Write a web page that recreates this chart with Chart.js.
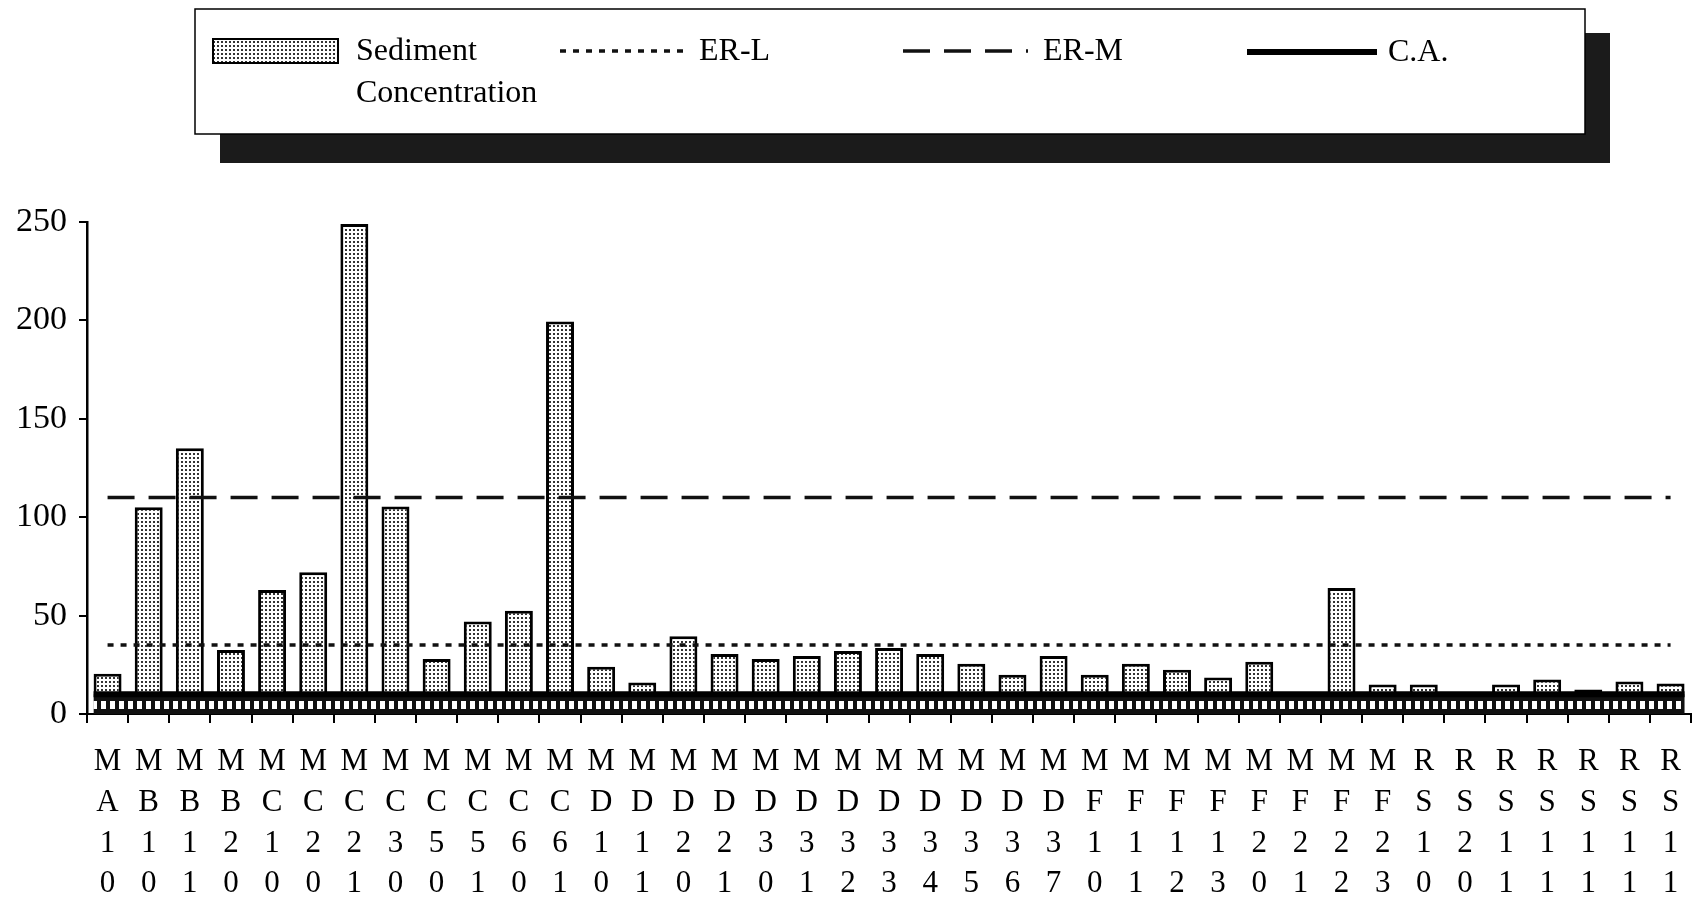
<!DOCTYPE html>
<html>
<head>
<meta charset="utf-8">
<title>Sediment concentration by station</title>
<script src="https://cdn.jsdelivr.net/npm/chart.js@4.4.1/dist/chart.umd.min.js"></script>
<style>
  html, body { margin: 0; padding: 0; background: #fff; }
  #wrap { width: 1700px; height: 898px; }
</style>
</head>
<body>
<div id="wrap"><canvas id="sedChart" width="1700" height="898"></canvas></div>
<script>
// Stations along the x axis (label is printed one character per line)
const stations = [
  'MA10', 'MB10', 'MB11', 'MB20', 'MC10', 'MC20', 'MC21', 'MC30', 'MC50', 'MC51',
  'MC60', 'MC61', 'MD10', 'MD11', 'MD20', 'MD21', 'MD30', 'MD31', 'MD32', 'MD33',
  'MD34', 'MD35', 'MD36', 'MD37', 'MF10', 'MF11', 'MF12', 'MF13', 'MF20', 'MF21',
  'MF22', 'MF23', 'RS10', 'RS20', 'RS11', 'RS11', 'RS11', 'RS11', 'RS11'
];

// Measured sediment concentration per station
const sediment = [
  20.5, 105, 135, 32.5, 63, 72, 249, 105.5, 28, 47,
  52.5, 199.5, 24, 16, 39.5, 30.5, 28, 29.5, 32, 33.5,
  30.5, 25.5, 20, 29.5, 20, 25.5, 22.5, 18.5, 26.5, 10,
  64, 15, 15, 10, 15, 17.5, 12.5, 16.5, 15.5
];

// Reference levels
const erL = 35;
const erM = 110;
const caLevel = 10;

const yMin = 0;
const yMax = 250;
const yStep = 50;

const serif = "'Liberation Serif', 'DejaVu Serif', serif";
const barPct = 0.68;

const canvas = document.getElementById('sedChart');
const ctx = canvas.getContext('2d');

// small repeating tiles for the stippled bars and the dark C.A. band
function makePattern(w, h, paint) {
  const tile = document.createElement('canvas');
  tile.width = w;
  tile.height = h;
  paint(tile.getContext('2d'));
  return ctx.createPattern(tile, 'repeat');
}

const dotFill = makePattern(4, 4, t => {
  t.fillStyle = '#fff';
  t.fillRect(0, 0, 4, 4);
  t.fillStyle = '#333';
  t.fillRect(1, 1, 2, 2);
});

const bandFill = makePattern(9, 20, t => {
  t.fillStyle = '#111';
  t.fillRect(0, 0, 9, 20);
  t.fillStyle = '#fff';
  t.fillRect(2, 1, 5, 8);
});

function flatLine(value) {
  return stations.map(() => value);
}

// Boxed legend with a drop shadow, drawn from the dataset styles
const legendBox = {
  id: 'legendBox',
  afterDraw(chart) {
    const c = chart.ctx;
    const box = { x: 195, y: 9, w: 1390, h: 125 };
    const slots = [
      { x: 213, w: 125, y: 51, tx: 356 },
      { x: 560, w: 128, y: 51, tx: 699 },
      { x: 903, w: 125, y: 51, tx: 1043 },
      { x: 1247, w: 130, y: 52, tx: 1388 }
    ];

    c.save();
    c.fillStyle = '#1b1b1b';
    c.fillRect(box.x + 25, box.y + 24, box.w, box.h + 5);
    c.fillStyle = '#fff';
    c.fillRect(box.x, box.y, box.w, box.h);
    c.strokeStyle = '#000';
    c.lineWidth = 1.5;
    c.strokeRect(box.x, box.y, box.w, box.h);

    c.font = '32px ' + serif;
    c.textBaseline = 'middle';
    c.textAlign = 'left';

    chart.data.datasets.forEach((ds, i) => {
      const s = slots[i];
      if (ds.type === 'line') {
        c.beginPath();
        c.setLineDash(ds.borderDash || []);
        c.lineWidth = ds.borderWidth;
        c.strokeStyle = ds.borderColor;
        c.moveTo(s.x, s.y);
        c.lineTo(s.x + s.w, s.y);
        c.stroke();
        c.setLineDash([]);
      } else {
        c.fillStyle = ds.backgroundColor;
        c.fillRect(s.x, s.y - 12, s.w, 24);
        c.lineWidth = 2;
        c.strokeStyle = '#000';
        c.strokeRect(s.x, s.y - 12, s.w, 24);
      }

      // wrap the label if it runs into the next entry
      const room = (slots[i + 1] ? slots[i + 1].x : box.x + box.w) - s.tx - 20;
      const lines = [];
      let cur = '';
      ds.label.split(' ').forEach(word => {
        const test = cur ? cur + ' ' + word : word;
        if (cur && c.measureText(test).width > room) {
          lines.push(cur);
          cur = word;
        } else {
          cur = test;
        }
      });
      lines.push(cur);
      c.fillStyle = '#000';
      lines.forEach((ln, k) => c.fillText(ln, s.tx, s.y + 1 + k * 42));
    });
    c.restore();
  }
};

const chart = new Chart(ctx, {
  type: 'bar',
  data: {
    labels: stations.map(s => s.split('')),
    datasets: [
      {
        label: 'Sediment Concentration',
        data: sediment,
        backgroundColor: dotFill,
        borderColor: '#000',
        borderWidth: 3,
        barPercentage: barPct,
        categoryPercentage: 1,
        grouped: false,
        xAxisID: 'x',
        order: 3
      },
      {
        type: 'line',
        label: 'ER-L',
        data: flatLine(erL),
        borderColor: '#111',
        borderWidth: 3.5,
        borderDash: [6, 7],
        pointRadius: 0,
        fill: false,
        xAxisID: 'x',
        order: 1
      },
      {
        type: 'line',
        label: 'ER-M',
        data: flatLine(erM),
        borderColor: '#111',
        borderWidth: 3.5,
        borderDash: [27, 14],
        pointRadius: 0,
        fill: false,
        xAxisID: 'x',
        order: 1
      },
      {
        type: 'line',
        label: 'C.A.',
        // runs from the outer edge of the first bar to the outer edge of the last one
        data: [
          { x: -barPct / 2, y: caLevel },
          { x: stations.length - 1 + barPct / 2, y: caLevel }
        ],
        borderColor: '#000',
        borderWidth: 6,
        pointRadius: 0,
        fill: 'origin',
        backgroundColor: bandFill,
        xAxisID: 'xl',
        order: 2
      }
    ]
  },
  options: {
    responsive: false,
    animation: false,
    layout: { padding: { top: 222, right: 7, left: 0, bottom: 0 } },
    plugins: {
      legend: { display: false },
      tooltip: { enabled: false }
    },
    scales: {
      x: {
        type: 'category',
        afterFit: scale => { scale.height = 184; },
        border: { display: true, color: '#000', width: 2 },
        grid: {
          display: true,
          offset: true,
          drawOnChartArea: false,
          drawTicks: true,
          tickLength: 9,
          color: '#000',
          lineWidth: 2
        },
        ticks: {
          autoSkip: false,
          maxRotation: 0,
          minRotation: 0,
          color: '#000',
          padding: 19,
          font: { family: serif, size: 31, lineHeight: 1.31 }
        }
      },
      xl: {
        type: 'linear',
        display: false,
        offset: false,
        grid: { offset: false },
        min: -0.5,
        max: stations.length - 0.5
      },
      y: {
        min: yMin,
        max: yMax,
        afterFit: scale => { scale.width = 87; },
        border: { display: true, color: '#000', width: 2.5 },
        grid: {
          display: true,
          drawOnChartArea: false,
          drawTicks: true,
          tickLength: 8,
          color: '#000',
          lineWidth: 2
        },
        ticks: {
          stepSize: yStep,
          color: '#000',
          padding: 12,
          font: { family: serif, size: 34 }
        }
      }
    }
  },
  plugins: [legendBox]
});
</script>
</body>
</html>
